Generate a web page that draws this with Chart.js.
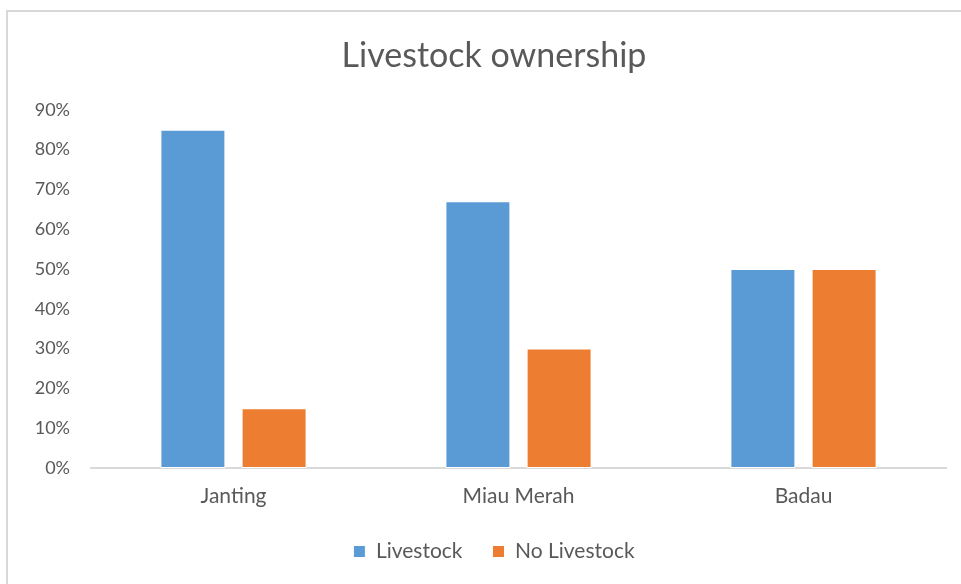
<!DOCTYPE html>
<html>
<head>
<meta charset="utf-8">
<title>Livestock ownership</title>
<script src="https://cdn.jsdelivr.net/npm/chart.js@4/dist/chart.umd.min.js"></script>
<style>
    html, body {
        margin: 0;
        padding: 0;
        background: #ffffff;
        overflow: hidden;
    }
    .chart-wrap {
        position: relative;
        width: 961px;
        height: 584px;
        overflow: hidden;
    }
    /* light frame around the chart, runs off the right and bottom edges */
    .chart-frame {
        position: absolute;
        left: 6px;
        top: 10px;
        width: 980px;
        height: 600px;
        border: 2px solid #d9d9d9;
        box-sizing: border-box;
        pointer-events: none;
    }
    canvas {
        position: absolute;
        left: 0;
        top: 0;
    }
</style>
</head>
<body>
<div class="chart-wrap">
    <canvas id="livestockChart" width="961" height="584"></canvas>
    <div class="chart-frame"></div>
</div>
<script>
// Share of households (%) per village
const villages = ['Janting', 'Miau Merah', 'Badau'];
const livestock = [85, 67, 50];
const noLivestock = [15, 30, 50];
const yMax = 90;
const yStep = 10;

const textColor = '#595959';
const fontFamily = 'Lato, "Open Sans", sans-serif';

Chart.defaults.font.family = fontFamily;
Chart.defaults.color = textColor;

// Title and legend are centred on the framed box, which runs past the
// right edge of the canvas, so nudge their boxes to the right.
const frameCentre = {
    id: 'frameCentre',
    afterLayout(chart) {
        const shift = 42;
        if (chart.titleBlock) chart.titleBlock.left += shift;
        if (chart.legend) chart.legend.left += shift;
    }
};

const ctx = document.getElementById('livestockChart').getContext('2d');

new Chart(ctx, {
    type: 'bar',
    data: {
        labels: villages,
        datasets: [
            {
                label: 'Livestock',
                data: livestock,
                backgroundColor: '#5b9bd5',
                borderColor: '#ffffff',
                borderWidth: 1,
                borderSkipped: false
            },
            {
                label: 'No Livestock',
                data: noLivestock,
                backgroundColor: '#ed7d31',
                borderColor: '#ffffff',
                borderWidth: 1,
                borderSkipped: false
            }
        ]
    },
    options: {
        responsive: false,
        animation: false,
        categoryPercentage: 0.57,
        barPercentage: 0.8,
        layout: {
            padding: { left: 0, right: 15, top: 26, bottom: 12 }
        },
        plugins: {
            title: {
                display: true,
                text: 'Livestock ownership',
                color: textColor,
                font: { size: 34, weight: 'normal' },
                padding: { top: 10, bottom: 33 }
            },
            legend: {
                position: 'bottom',
                labels: {
                    boxWidth: 12,
                    boxHeight: 12,
                    padding: 30,
                    color: textColor,
                    font: { size: 21 }
                }
            },
            tooltip: { enabled: false }
        },
        scales: {
            x: {
                grid: { display: false, drawTicks: false },
                border: { display: true, color: '#d9d9d9', width: 2 },
                ticks: {
                    padding: 16,
                    color: textColor,
                    font: { size: 21 }
                },
                afterFit: (scale) => {
                    scale.height = 43;
                }
            },
            y: {
                min: 0,
                max: yMax,
                grid: { display: false, drawTicks: false },
                border: { display: false },
                ticks: {
                    stepSize: yStep,
                    padding: 21,
                    color: textColor,
                    font: { size: 18 },
                    callback: (value) => value + '%'
                },
                afterFit: (scale) => {
                    scale.width = 91;
                }
            }
        }
    },
    plugins: [frameCentre]
});
</script>
</body>
</html>
